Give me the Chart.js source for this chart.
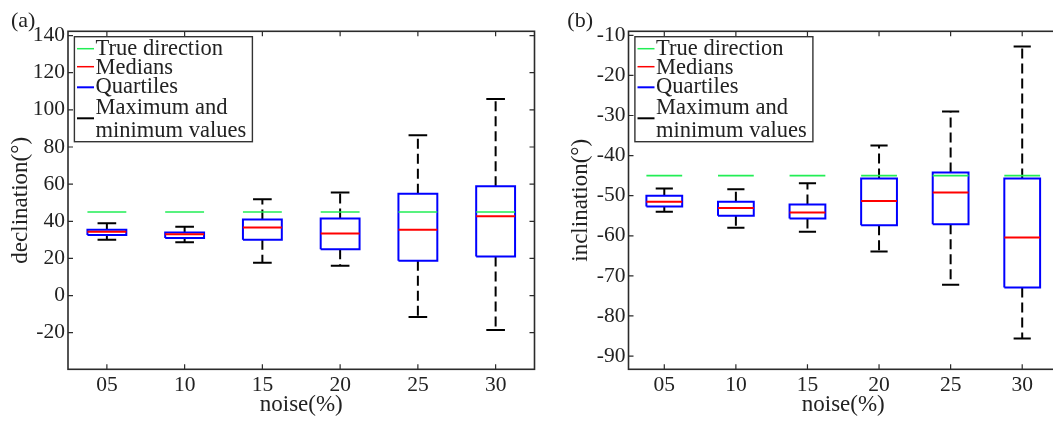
<!DOCTYPE html>
<html>
<head>
<meta charset="utf-8">
<script src="https://cdn.jsdelivr.net/npm/chart.js@4.4.1/dist/chart.umd.min.js"></script>
<style>
html, body { margin: 0; padding: 0; background: #fff; overflow: hidden; }
#wrap { position: relative; width: 1053px; height: 421px; overflow: hidden; }
canvas { position: absolute; top: 0; }
#decChart { left: 0; }
#incChart { left: 540px; }
</style>
</head>
<body>
<div id="wrap">
  <canvas id="decChart" width="540" height="421"></canvas>
  <canvas id="incChart" width="521" height="421"></canvas>
</div>
<script>
// noise levels on the x axis
const noise = ['05', '10', '15', '20', '25', '30'];

// (a) declination
const trueDec = 45;
const decMax = [38.9, 37.0, 51.9, 55.5, 86.3, 105.9];
const decQ3  = [35.5, 33.9, 40.9, 41.5, 54.8, 58.8];
const decMed = [34.3, 33.0, 36.6, 33.4, 35.5, 42.7];
const decQ1  = [32.6, 31.0, 30.1, 24.9, 18.8, 21.1];
const decMin = [30.1, 28.7, 17.7, 16.0, -11.5, -18.5];
const decTicks = [-20, 0, 20, 40, 60, 80, 100, 120, 140];

// (b) inclination
const trueInc = -45;
const incMax = [-48.2, -48.4, -46.9, -37.5, -29.0, -12.8];
const incQ3  = [-50.0, -51.5, -52.2, -45.7, -44.2, -45.7];
const incMed = [-51.5, -53.1, -54.2, -51.3, -49.2, -60.4];
const incQ1  = [-52.7, -55.0, -55.7, -57.4, -57.1, -72.9];
const incMin = [-54.0, -58.0, -59.0, -63.9, -72.2, -85.6];
const incTicks = [-90, -80, -70, -60, -50, -40, -30, -20, -10];

const legendItems = [
  { color: '#22ee55', width: 1.5, text: ['True direction'] },
  { color: '#ff0000', width: 1.5, text: ['Medians'] },
  { color: '#0000ff', width: 2, text: ['Quartiles'] },
  { color: '#000000', width: 2, text: ['Maximum and', 'minimum values'] }
];

const FONT = 'Liberation Serif';
const BOX = 0.25;   // half box width in x units
const CAP = 0.12;   // half whisker cap width

// helpers that turn the value arrays into line points
function hsegs(vals, half) {
  const pts = [];
  vals.forEach((v, i) => {
    pts.push({ x: i + 1 - half, y: v }, { x: i + 1 + half, y: v }, { x: i + 1, y: null });
  });
  return pts;
}
function boxes(q1, q3) {
  const pts = [];
  q1.forEach((lo, i) => {
    const hi = q3[i], a = i + 1 - BOX, b = i + 1 + BOX;
    pts.push({ x: a, y: lo }, { x: a, y: hi }, { x: b, y: hi }, { x: b, y: lo }, { x: a, y: lo }, { x: i + 1, y: null });
  });
  return pts;
}
function whiskers(mn, q1, q3, mx) {
  const pts = [];
  mn.forEach((lo, i) => {
    pts.push({ x: i + 1, y: q3[i] }, { x: i + 1, y: mx[i] }, { x: i + 1, y: null });
    pts.push({ x: i + 1, y: q1[i] }, { x: i + 1, y: lo }, { x: i + 1, y: null });
  });
  return pts;
}

// frame, inward ticks, legend and panel letter
const framePlugin = {
  id: 'frame',
  afterDraw(chart, args, opts) {
    const { ctx, chartArea: ca, scales } = chart;
    ctx.save();
    ctx.strokeStyle = '#2b2b2b';
    ctx.lineWidth = 1.6;
    ctx.strokeRect(ca.left, ca.top, ca.right - ca.left, ca.bottom - ca.top);
    ctx.lineWidth = 1.2;
    ctx.beginPath();
    scales.x.ticks.forEach(t => {
      const px = scales.x.getPixelForValue(t.value);
      ctx.moveTo(px, ca.bottom); ctx.lineTo(px, ca.bottom - 5);
      ctx.moveTo(px, ca.top); ctx.lineTo(px, ca.top + 5);
    });
    scales.y.ticks.forEach(t => {
      const py = scales.y.getPixelForValue(t.value);
      ctx.moveTo(ca.left, py); ctx.lineTo(ca.left + 5, py);
      ctx.moveTo(ca.right, py); ctx.lineTo(ca.right - 5, py);
    });
    ctx.stroke();

    // legend
    const lx = ca.left + 6.4, ly = ca.top + 5.4, lw = 178, lh = 105;
    ctx.fillStyle = '#fff';
    ctx.fillRect(lx, ly, lw, lh);
    ctx.strokeStyle = '#333';
    ctx.lineWidth = 1.4;
    ctx.strokeRect(lx, ly, lw, lh);
    const lineY = [12, 30, 50.6, 81.6];
    const textY = [[12.6], [31.6], [50], [71, 94]];
    ctx.font = '22.5px "' + FONT + '"';
    ctx.textBaseline = 'middle';
    ctx.textAlign = 'left';
    legendItems.forEach((it, k) => {
      ctx.strokeStyle = it.color;
      ctx.lineWidth = it.width;
      ctx.beginPath();
      ctx.moveTo(lx + 2.6, ly + lineY[k]);
      ctx.lineTo(lx + 19.6, ly + lineY[k]);
      ctx.stroke();
      ctx.fillStyle = '#222';
      it.text.forEach((s, j) => ctx.fillText(s, lx + 21.2, ly + textY[k][j]));
    });

    // panel letter
    ctx.font = '22px "' + FONT + '"';
    ctx.fillStyle = '#222';
    ctx.fillText(opts.label, opts.labelX, 21);
    ctx.restore();
  }
};

function makeChart(el, o) {
  return new Chart(document.getElementById(el), {
    type: 'scatter',
    data: {
      datasets: [
        { data: hsegs(o.med, BOX), borderColor: '#ff0000', borderWidth: 2 },
        { data: hsegs(o.med.map(() => o.truth), BOX), borderColor: '#22ee55', borderWidth: 1.6 },
        { data: boxes(o.q1, o.q3), borderColor: '#0000ff', borderWidth: 2 },
        { data: hsegs(o.max, CAP).concat(hsegs(o.min, CAP)), borderColor: '#000', borderWidth: 2 },
        { data: whiskers(o.min, o.q1, o.q3, o.max), borderColor: '#000', borderWidth: 2, borderDash: [10, 5] }
      ].map(d => Object.assign(d, { showLine: true, pointRadius: 0, spanGaps: false, fill: false, tension: 0 }))
    },
    options: {
      responsive: false,
      animation: false,
      events: [],
      layout: { padding: { left: 0, right: o.padRight, top: 31.3, bottom: 0 } },
      plugins: {
        legend: { display: false },
        tooltip: { enabled: false },
        frame: { label: o.label, labelX: o.labelX }
      },
      scales: {
        x: {
          type: 'linear',
          min: 0.5,
          max: 6.5,
          afterBuildTicks: s => { s.ticks = noise.map((n, i) => ({ value: i + 1 })); },
          afterFit: s => { s.height = 51.7; },
          grid: { display: false, drawTicks: false, tickLength: 0 },
          border: { display: false },
          ticks: {
            callback: v => noise[v - 1] || '',
            font: { family: FONT, size: 21.5 },
            color: '#222',
            padding: 3
          },
          title: {
            display: true,
            text: 'noise(%)',
            font: { family: FONT, size: 23 },
            color: '#222',
            padding: { top: 0, bottom: 2.2 }
          }
        },
        y: {
          min: o.yMin,
          max: o.yMax,
          afterBuildTicks: s => { s.ticks = o.ticks.map(v => ({ value: v })); },
          afterFit: s => { s.width = o.yWidth; },
          grid: { display: false, drawTicks: false, tickLength: 0 },
          border: { display: false },
          ticks: {
            callback: v => String(v),
            font: { family: FONT, size: 21.5 },
            color: '#222',
            padding: 3
          },
          title: {
            display: true,
            text: o.title,
            font: { family: FONT, size: 23 },
            color: '#222',
            padding: { top: o.titlePad, bottom: 0 }
          }
        }
      }
    },
    plugins: [framePlugin]
  });
}

makeChart('decChart', {
  med: decMed, q1: decQ1, q3: decQ3, min: decMin, max: decMax, truth: trueDec,
  ticks: decTicks, yMin: -39.7, yMax: 142.3, title: 'declination(°)',
  yWidth: 68, padRight: 5.5, titlePad: 7.2, label: '(a)', labelX: 11
});

makeChart('incChart', {
  med: incMed, q1: incQ1, q3: incQ3, min: incMin, max: incMax, truth: trueInc,
  ticks: incTicks, yMin: -93.3, yMax: -9, title: 'inclination(°)',
  yWidth: 88.5, padRight: 3, titlePad: 26.9, label: '(b)', labelX: 27.3
});
</script>
</body>
</html>
